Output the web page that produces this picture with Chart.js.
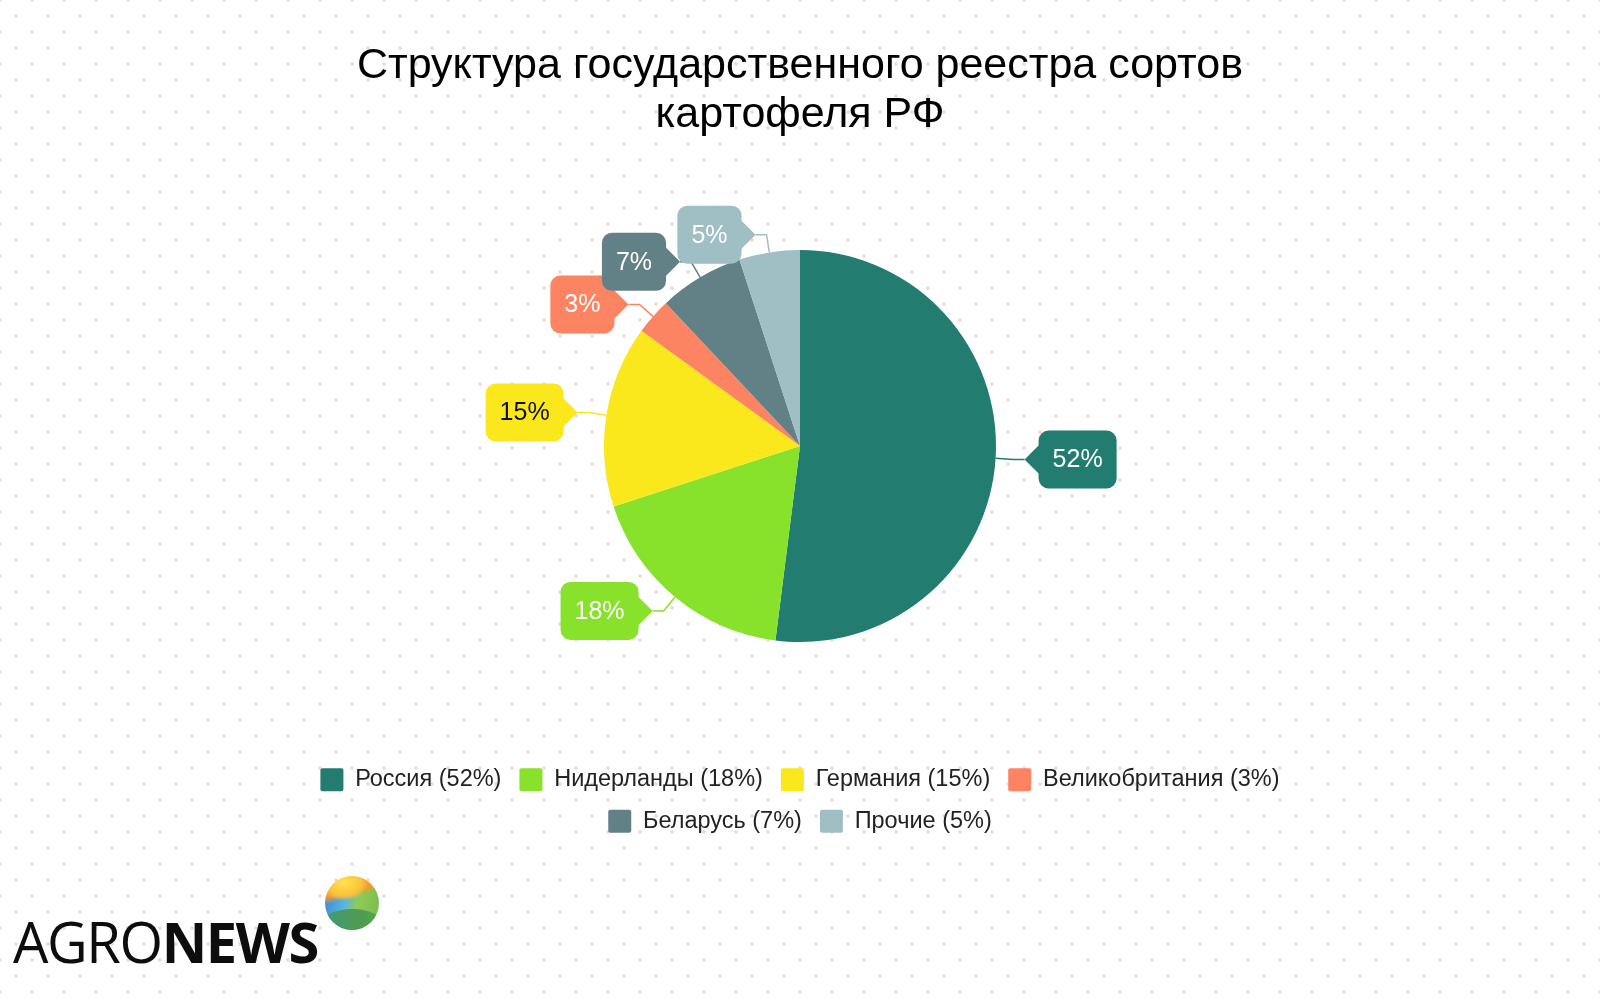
<!DOCTYPE html>
<html lang="ru">
<head>
<meta charset="utf-8">
<title>Структура государственного реестра сортов картофеля РФ</title>
<script src="https://cdn.jsdelivr.net/npm/chart.js@4.4.0/dist/chart.umd.min.js"></script>
<style>
html, body { margin: 0; padding: 0; }
body {
  width: 1600px; height: 1006px; overflow: hidden; position: relative;
  background-color: #fff;
  background-image:
    radial-gradient(circle, #fbd3d3 1.5px, transparent 1.9px),
    radial-gradient(circle, #fbd3d3 1.5px, transparent 1.9px);
  background-size: 32px 32px;
  background-position: 0 0, 16px 16px;
}
#wrap { position: absolute; left: 0; top: 0; width: 1600px; height: 1006px; }
.logo {
  position: absolute; left: 13px; top: 913px;
  font-family: "Open Sans", Lato, sans-serif; font-size: 56px; line-height: 1;
  color: #0d0d0d; letter-spacing: -1.4px;
}
.logo b { font-weight: 700; }
.globe {
  position: absolute; left: 325px; top: 876px; width: 54px; height: 54px; border-radius: 50%;
  background:
    radial-gradient(ellipse 60% 45% at 35% 12%, #ffe24d 0%, #f9c23a 55%, transparent 75%),
    linear-gradient(165deg, #f7a52b 0%, #f39a2e 32%, transparent 42%),
    linear-gradient(100deg, #3a86d4 0%, #58b4e2 38%, #8fcb5a 58%, #79bb4e 100%);
  overflow: hidden;
}
.globe::after {
  content: ""; position: absolute; left: -10%; top: 62%; width: 120%; height: 60%;
  border-radius: 50% 50% 0 0; background: linear-gradient(90deg, #3d9c7a, #4d9a55 60%, #5aa748);
}
</style>
</head>
<body>
<div id="wrap"><canvas id="chart" width="1600" height="1006"></canvas></div>
<div class="logo">AGRO<b>NEWS</b></div>
<div class="globe"></div>
<script>
// Данные диаграммы
const titleLines = ['Структура государственного реестра сортов', 'картофеля РФ'];
const countries = ['Россия', 'Нидерланды', 'Германия', 'Великобритания', 'Беларусь', 'Прочие'];
const shares = [52, 18, 15, 3, 7, 5];

// Цвета секторов и подписей
const sliceColors = ['#227c70', '#88e12a', '#fae81c', '#fc8462', '#628186', '#9fbfc5'];
const labelTextColors = ['#fff', '#fff', '#111', '#fff', '#fff', '#fff'];

const fontFamily = '"Liberation Sans", Arial, sans-serif';

// Плагин: выноски с процентами и соединительными линиями
const calloutPlugin = {
    id: 'callouts',
    afterDatasetsDraw(chart) {
        const ctx = chart.ctx;
        const meta = chart.getDatasetMeta(0);
        ctx.save();
        ctx.font = '25px ' + fontFamily;
        meta.data.forEach((arc, i) => {
            const p = arc.getProps(['x', 'y', 'startAngle', 'endAngle', 'outerRadius'], true);
            const mid = (p.startAngle + p.endAngle) / 2;
            const cos = Math.cos(mid), sin = Math.sin(mid);
            const ex = p.x + cos * p.outerRadius, ey = p.y + sin * p.outerRadius;
            const bx = ex + cos * 18, by = ey + sin * 18;
            const right = cos >= 0;
            const tx = bx + (right ? 11 : -11), ty = by;
            const color = sliceColors[i];

            // соединительная линия
            ctx.strokeStyle = color;
            ctx.lineWidth = 1.5;
            ctx.beginPath();
            ctx.moveTo(ex, ey);
            ctx.lineTo(bx, by);
            ctx.lineTo(tx, ty);
            ctx.stroke();

            // коробка выноски
            const text = shares[i] + '%';
            const w = ctx.measureText(text).width + 28;
            const h = 58;
            const depth = 14;
            const left = right ? tx + depth : tx - depth - w;
            const top = ty - h / 2;
            ctx.fillStyle = color;
            ctx.beginPath();
            ctx.roundRect(left, top, w, h, 10);
            ctx.fill();
            const edge = right ? left : left + w;
            ctx.beginPath();
            ctx.moveTo(edge + (right ? 1 : -1), ty - 15);
            ctx.lineTo(tx, ty);
            ctx.lineTo(edge + (right ? 1 : -1), ty + 15);
            ctx.closePath();
            ctx.fill();

            ctx.fillStyle = labelTextColors[i];
            ctx.textAlign = 'center';
            ctx.textBaseline = 'middle';
            ctx.fillText(text, left + w / 2, ty + 1);
        });
        ctx.restore();
    }
};

function buildChart() {
    const ctx = document.getElementById('chart').getContext('2d');
    return new Chart(ctx, {
        type: 'pie',
        data: {
            labels: countries.map((c, i) => `${c} (${shares[i]}%)`),
            datasets: [{
                data: shares,
                backgroundColor: sliceColors,
                borderWidth: 0,
                radius: 196
            }]
        },
        options: {
            responsive: false,
            animation: false,
            layout: { padding: { left: 250, right: 250, top: 20, bottom: 163 } },
            plugins: {
                tooltip: { enabled: false },
                title: {
                    display: true,
                    text: titleLines,
                    color: '#000',
                    font: { family: fontFamily, size: 43, weight: 'normal', lineHeight: 1.14 },
                    padding: { top: 21.5, bottom: 2.5 }
                },
                legend: {
                    position: 'bottom',
                    labels: {
                        boxWidth: 23,
                        boxHeight: 23,
                        padding: 18,
                        useBorderRadius: true,
                        borderRadius: 2,
                        color: '#222',
                        font: { family: fontFamily, size: 23.5 }
                    }
                }
            }
        },
        plugins: [calloutPlugin]
    });
}

document.addEventListener('DOMContentLoaded', () => {
    buildChart();
});
</script>
</body>
</html>
